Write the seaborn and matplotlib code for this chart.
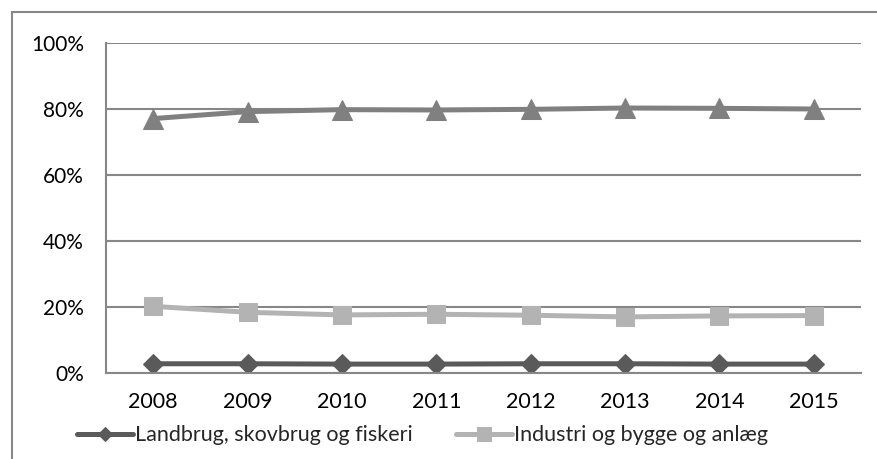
import matplotlib
matplotlib.use("Agg")
import matplotlib.pyplot as plt
from matplotlib.patches import Rectangle
import seaborn as sns
import pandas as pd

# data (share in %)
years = ["2008", "2009", "2010", "2011", "2012", "2013", "2014", "2015"]
landbrug = [2.8, 2.8, 2.7, 2.7, 2.8, 2.8, 2.7, 2.7]
industri = [20.2, 18.4, 17.6, 17.8, 17.5, 17.0, 17.3, 17.4]
service = [77.1, 79.2, 79.8, 79.7, 79.9, 80.3, 80.2, 80.0]
labels = ["Landbrug, skovbrug og fiskeri", "Industri og bygge og anlæg", "Service"]

sns.set_theme(style="white")
plt.rcParams["font.family"] = ["Lato", "DejaVu Sans"]

fig = plt.figure(figsize=(8.78, 4.59), dpi=100)
ax = fig.add_axes([106 / 878, 1 - 373 / 459, (861 - 106) / 878, (373 - 43) / 459])

x = list(range(len(years)))
df = pd.DataFrame({"x": x, "landbrug": landbrug, "industri": industri, "service": service})

# series styles: colour, marker, marker size
styles = [("landbrug", "#5a5a5a", "D", 10),
          ("industri", "#b3b3b3", "s", 13),
          ("service", "#808080", "^", 14)]
for (col, c, m, ms), lab in zip(styles, labels):
    sns.lineplot(data=df, x="x", y=col, ax=ax, color=c, marker=m, markersize=ms,
                 markeredgecolor=c, linewidth=3.6, label=lab)

ax.set_xlim(-0.5, len(years) - 0.5)
ax.set_ylim(0, 100)
ax.set_xticks(x)
ax.set_xticklabels(years)
ax.set_yticks([0, 20, 40, 60, 80, 100])
ax.set_yticklabels([f"{v}%" for v in range(0, 101, 20)])
ax.set_xlabel("")
ax.set_ylabel("")
ax.grid(axis="y", color="#878787", linewidth=1.5)
ax.set_axisbelow(True)
ax.tick_params(axis="y", length=0, pad=16, labelsize=15, colors="black")
ax.tick_params(axis="x", length=0, pad=14, labelsize=15.5, colors="black")
for s in ["top", "right"]:
    ax.spines[s].set_visible(False)
for s in ["left", "bottom"]:
    ax.spines[s].set_color("#878787")
    ax.spines[s].set_linewidth(1.5)

handles, labs = ax.get_legend_handles_labels()
ax.legend(handles[:2], labs[:2], loc="center", bbox_to_anchor=(0.481, 0.052),
          bbox_transform=fig.transFigure, ncol=2, frameon=False, fontsize=15.5,
          markerscale=0.75, handlelength=2.6, handletextpad=0.1, columnspacing=2.0,
          borderpad=0, borderaxespad=0)

# outer frame of the chart object (cut off at the bottom and right)
fig.add_artist(Rectangle((12 / 878, -0.2), 1.2, 1.2 - 12 / 459, transform=fig.transFigure,
                         fill=False, edgecolor="#888888", linewidth=1.5, clip_on=False))

fig.savefig("out.png", dpi=100)
